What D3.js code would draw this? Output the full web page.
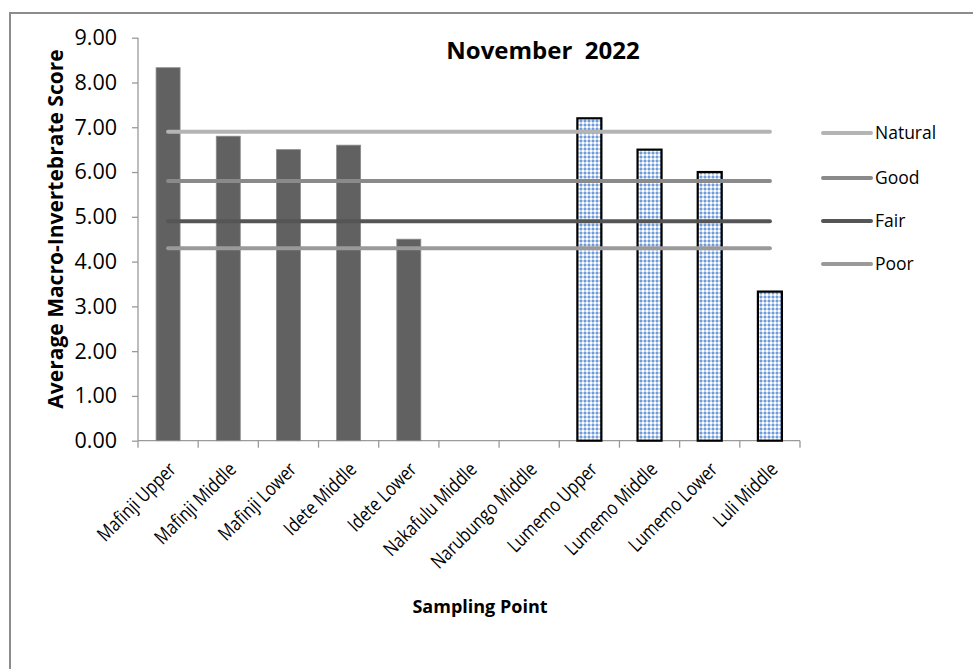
<!DOCTYPE html>
<html>
<head>
<meta charset="utf-8">
<script src="https://cdn.jsdelivr.net/npm/d3@7"></script>
<style>
  html, body { margin: 0; padding: 0; background: #fff; }
  svg text { font-family: "Open Sans", "Liberation Sans", sans-serif; fill: #000; }
</style>
</head>
<body>
<svg id="chart" width="973" height="669"></svg>
<script>
// Sampling points along the x axis
const categories = [
  "Mafinji Upper", "Mafinji Middle", "Mafinji Lower", "Idete Middle", "Idete Lower",
  "Nakafulu Middle", "Narubungo Middle", "Lumemo Upper", "Lumemo Middle", "Lumemo Lower", "Luli Middle"
];
// Average macro-invertebrate scores, November 2022 (null = not sampled)
const scoresMafinjiIdete = [8.33, 6.8, 6.5, 6.6, 4.5, null, null, null, null, null, null];
const scoresLumemoLuli   = [null, null, null, null, null, null, null, 7.2, 6.5, 6.0, 3.33];
// Condition class thresholds drawn as horizontal reference lines
const thresholdNames  = ["Natural", "Good", "Fair", "Poor"];
const thresholdValues = [6.9, 5.8, 4.9, 4.3];
const yTicks = [0, 1, 2, 3, 4, 5, 6, 7, 8, 9];

const svg = d3.select("#chart");
const margin = { left: 138, right: 173, top: 37.7, bottom: 228.3 };
const W = 973, H = 669;

// outer chart frame
svg.append("rect")
  .attr("x", 10).attr("y", 13).attr("width", 980).attr("height", 680)
  .attr("fill", "#fff").attr("stroke", "#8c8c8c").attr("stroke-width", 2);

// dotted blue fill
const defs = svg.append("defs");
const pat = defs.append("pattern").attr("id", "dots")
  .attr("width", 4).attr("height", 4).attr("patternUnits", "userSpaceOnUse");
pat.append("rect").attr("width", 4).attr("height", 4).attr("fill", "#c2d6f0");
pat.append("rect").attr("x", 0).attr("y", 0).attr("width", 2).attr("height", 2).attr("fill", "#6f9bd8");
pat.append("rect").attr("x", 2).attr("y", 2).attr("width", 2).attr("height", 2).attr("fill", "#ffffff");

const xPos = d3.scalePoint().domain(categories)
  .range([margin.left, W - margin.right]).padding(0.5);
const y = d3.scaleLinear().domain([0, 9]).range([H - margin.bottom, margin.top]);
const step = xPos.step();

// y axis
const yAxis = svg.append("g").attr("transform", `translate(${margin.left},0)`)
  .call(d3.axisLeft(y).tickValues(yTicks).tickFormat(d3.format(".2f")).tickSize(6).tickPadding(15));
yAxis.selectAll("text").attr("font-size", 21.5).attr("fill", "#000");
yAxis.select(".domain").attr("d", `M0,${y(9)}V${y(0)}`);

// x axis with ticks on category boundaries
const xAxis = svg.append("g").attr("transform", `translate(0,${y(0)})`);
xAxis.append("path").attr("class", "domain")
  .attr("d", `M${margin.left},0H${W - margin.right}`);
xAxis.selectAll(".bnd").data(d3.range(categories.length + 1)).enter().append("line")
  .attr("class", "bnd")
  .attr("x1", i => margin.left + i * step).attr("x2", i => margin.left + i * step)
  .attr("y1", 0).attr("y2", 7);
svg.selectAll(".domain, .tick line, .bnd").attr("stroke", "#9a9a9a").attr("stroke-width", 1.3).attr("fill", "none");

// category labels, slanted and slightly condensed
svg.append("g").selectAll("text").data(categories).enter().append("text")
  .attr("transform", d => `translate(${xPos(d) + 9},${y(0) + 30}) rotate(-45)`)
  .attr("text-anchor", "end")
  .attr("font-size", 19.5)
  .text(d => d)
  .each(function () {
    const len = this.getComputedTextLength();
    d3.select(this).attr("textLength", len * 0.82).attr("lengthAdjust", "spacingAndGlyphs");
  });

// bars
const bw = 24;
svg.append("g").selectAll("rect").data(categories.map((c, i) => ({ c, v: scoresMafinjiIdete[i] })).filter(d => d.v != null))
  .enter().append("rect")
  .attr("x", d => xPos(d.c) - bw / 2).attr("width", bw)
  .attr("y", d => y(d.v)).attr("height", d => y(0) - y(d.v))
  .attr("fill", "#616161").attr("stroke", "#8a8a8a").attr("stroke-width", 0.8);

svg.append("g").selectAll("rect").data(categories.map((c, i) => ({ c, v: scoresLumemoLuli[i] })).filter(d => d.v != null))
  .enter().append("rect")
  .attr("x", d => xPos(d.c) - bw / 2).attr("width", bw)
  .attr("y", d => y(d.v)).attr("height", d => y(0) - y(d.v))
  .attr("fill", "url(#dots)").attr("stroke", "#000").attr("stroke-width", 2.2);

// threshold lines
const lineColors = ["#b4b4b4", "#8a8a8a", "#555555", "#9a9a9a"];
const line = d3.line().x(d => xPos(d.c)).y(d => y(d.v));
thresholdValues.forEach((v, k) => {
  svg.append("path")
    .datum(categories.map(c => ({ c, v })))
    .attr("d", line)
    .attr("fill", "none").attr("stroke", lineColors[k])
    .attr("stroke-width", 4).attr("stroke-linecap", "round");
});

// legend
const legY = [133, 178, 221, 264];
const leg = svg.append("g");
thresholdNames.forEach((n, k) => {
  leg.append("line").attr("x1", 823).attr("x2", 871).attr("y1", legY[k]).attr("y2", legY[k])
    .attr("stroke", lineColors[k]).attr("stroke-width", 4).attr("stroke-linecap", "round");
  leg.append("text").attr("x", 875).attr("y", legY[k] + 6).attr("font-size", 17.5).text(n);
});

// titles
svg.append("text").attr("x", 543).attr("y", 59).attr("text-anchor", "middle")
  .attr("font-size", 24).attr("font-weight", "bold").style("white-space", "pre")
  .text("November  2022");
svg.append("text").attr("transform", `translate(63,229) rotate(-90)`).attr("text-anchor", "middle")
  .attr("font-size", 21).attr("font-weight", "bold").text("Average Macro-Invertebrate Score");
svg.append("text").attr("x", 480).attr("y", 613).attr("text-anchor", "middle")
  .attr("font-size", 18).attr("font-weight", "bold").text("Sampling Point");
</script>
</body>
</html>
